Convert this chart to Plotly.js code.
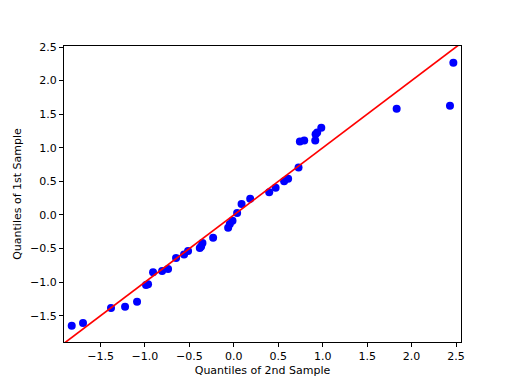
<!DOCTYPE html>
<html>
<head>
<meta charset="utf-8">
<script src="https://cdn.plot.ly/plotly-3.0.1.min.js"></script>
<style>html,body{margin:0;padding:0;background:#fff;}#chart{width:512px;height:384px;}</style>
</head>
<body>
<div id="chart"></div>
<script>
// Theoretical quantiles (2nd sample) and sample quantiles (1st sample)
const quantiles2nd = [-1.824, -1.697, -1.382, -1.224, -1.089, -0.988, -0.965, -0.909, -0.807, -0.740,
  -0.650, -0.560, -0.515, -0.383, -0.368, -0.353, -0.233, -0.064, -0.045, -0.015,
  0.037, 0.087, 0.184, 0.398, 0.470, 0.566, 0.611, 0.728, 0.743, 0.792,
  0.916, 0.920, 0.938, 0.984, 1.832, 2.432, 2.470];
const quantiles1st = [-1.648, -1.608, -1.385, -1.365, -1.291, -1.042, -1.033, -0.854, -0.833, -0.803,
  -0.640, -0.590, -0.535, -0.490, -0.470, -0.416, -0.341, -0.192, -0.133, -0.088,
  0.031, 0.165, 0.240, 0.338, 0.404, 0.502, 0.538, 0.706, 1.094, 1.109,
  1.109, 1.203, 1.228, 1.298, 1.581, 1.626, 2.267];
// 45-degree reference line
const lineX = [-3, 3];
const lineY = [-3, 3];
const xTitle = 'Quantiles of 2nd Sample';
const yTitle = 'Quantiles of 1st Sample';

const font = {family: 'DejaVu Sans', size: 11, color: '#000'};
const traces = [
  {x: quantiles2nd, y: quantiles1st, type: 'scatter', mode: 'markers',
   marker: {color: '#0000ff', size: 8, line: {width: 0}}, hoverinfo: 'none'},
  {x: lineX, y: lineY, type: 'scatter', mode: 'lines',
   line: {color: '#ff0000', width: 1.7}, hoverinfo: 'none'}
];
const axisCommon = {
  showgrid: false, zeroline: false, showline: true, mirror: true,
  linecolor: '#000', linewidth: 1, ticks: 'outside', ticklen: 4, tickwidth: 1,
  tickcolor: '#000', dtick: 0.5, tick0: 0, tickformat: '.1f', tickfont: font
};
const layout = {
  width: 512, height: 384, showlegend: false,
  paper_bgcolor: '#fff', plot_bgcolor: '#fff',
  margin: {l: 64, r: 51, t: 46, b: 42},
  font: font,
  xaxis: Object.assign({}, axisCommon, {range: [-1.911, 2.556],
    title: {text: xTitle, font: font, standoff: 4}}),
  yaxis: Object.assign({}, axisCommon, {range: [-1.891, 2.515],
    title: {text: yTitle, font: font, standoff: 6}})
};
Plotly.newPlot('chart', traces, layout, {staticPlot: true});
</script>
</body>
</html>
